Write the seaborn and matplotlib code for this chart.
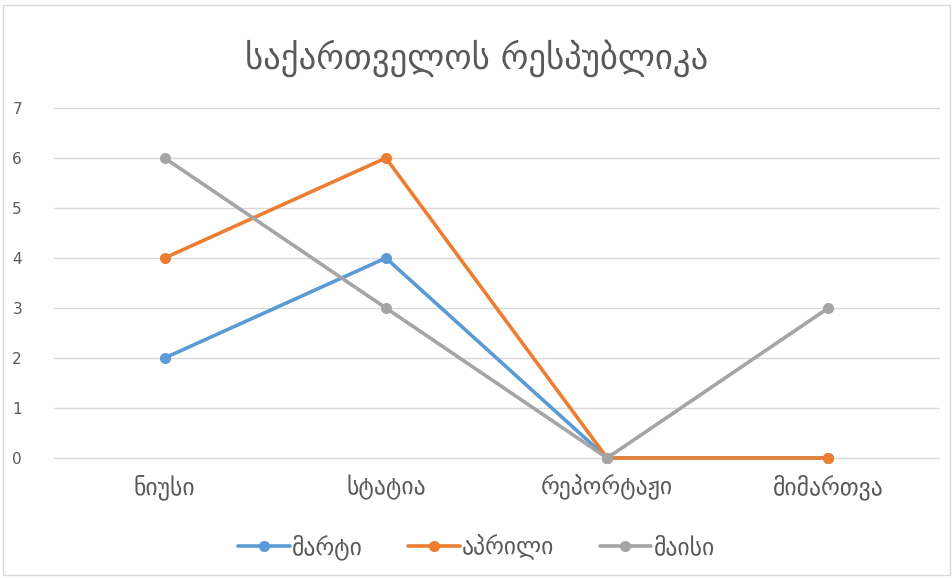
import pandas as pd
import matplotlib.pyplot as plt
import seaborn as sns
from matplotlib.patches import Rectangle

categories = ['ნიუსი', 'სტატია', 'რეპორტაჟი', 'მიმართვა']
series_names = ['მარტი', 'აპრილი', 'მაისი']
mart = [2, 4, 0, 0]
april = [4, 6, 0, 0]
may = [6, 3, 0, 3]
colors = ['#5B9BD5', '#ED7D31', '#A5A5A5']

rows = []
for name, vals in zip(series_names, [mart, april, may]):
    for cat, v in zip(categories, vals):
        rows.append({'cat': cat, 'value': v, 'series': name})
df = pd.DataFrame(rows)

sns.set_style('white')
plt.rcParams['font.family'] = ['DejaVu Sans']

fig = plt.figure(figsize=(9.53, 5.78), dpi=100)
ax = fig.add_axes([54 / 953, 120 / 578, 885 / 953, 350 / 578])

sns.lineplot(data=df, x='cat', y='value', hue='series', palette=colors,
             sort=False, marker='o', markersize=8, markeredgewidth=0,
             linewidth=2.6, ax=ax, clip_on=False)

ax.set_xlim(-0.5, 3.5)
ax.set_ylim(0, 7)
ax.set_yticks(range(0, 8))
ax.grid(axis='y', color='#D9D9D9', linewidth=1)
for gl in ax.get_ygridlines():
    gl.set_clip_on(False)
ax.set_axisbelow(True)
for s in ax.spines.values():
    s.set_visible(False)
ax.set_xlabel('')
ax.set_ylabel('')
ax.tick_params(axis='both', length=0, labelcolor='#595959')
ax.tick_params(axis='x', pad=12, labelsize=17)
ax.tick_params(axis='y', pad=30, labelsize=11)
for lbl in ax.get_yticklabels():
    lbl.set_horizontalalignment('left')

fig.text(0.5, 1 - 58 / 578, 'საქართველოს რესპუბლიკა', ha='center', va='center',
         fontsize=25, color='#595959')

leg = ax.legend(loc='center', bbox_to_anchor=(0.5, 1 - 547 / 578), bbox_transform=fig.transFigure,
                ncol=3, frameon=False, fontsize=17, handlelength=2.2, columnspacing=1.9,
                handletextpad=0.1)
for t in leg.get_texts():
    t.set_color('#595959')

fig.patches.append(Rectangle((3 / 953, 3 / 578), 947 / 953, 570 / 578, transform=fig.transFigure,
                             fill=False, edgecolor='#D9D9D9', linewidth=1))

fig.savefig('out.png', dpi=100, facecolor='white')
